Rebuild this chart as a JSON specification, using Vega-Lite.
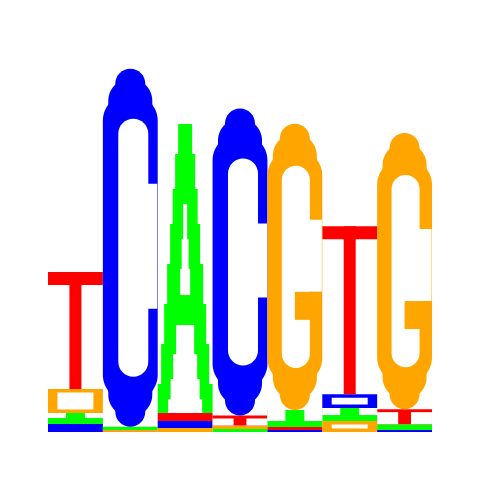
{
  "$schema": "https://vega.github.io/schema/vega-lite/v6.json",
  "width": 384,
  "height": 384,
  "padding": {"left": 48, "top": 48, "right": 48, "bottom": 48},
  "autosize": {"type": "none"},
  "background": "white",
  "config": {"view": {"stroke": null}},
  "data": {
    "values": [
      {"position": 1, "base": "C", "bits": 0.042},
      {"position": 1, "base": "A", "bits": 0.057},
      {"position": 1, "base": "G", "bits": 0.125},
      {"position": 1, "base": "T", "bits": 0.609},
      {"position": 2, "base": "T", "bits": 0.003},
      {"position": 2, "base": "G", "bits": 0.008},
      {"position": 2, "base": "A", "bits": 0.016},
      {"position": 2, "base": "C", "bits": 1.865},
      {"position": 3, "base": "G", "bits": 0.021},
      {"position": 3, "base": "C", "bits": 0.036},
      {"position": 3, "base": "T", "bits": 0.042},
      {"position": 3, "base": "A", "bits": 1.505},
      {"position": 4, "base": "A", "bits": 0.016},
      {"position": 4, "base": "G", "bits": 0.018},
      {"position": 4, "base": "T", "bits": 0.052},
      {"position": 4, "base": "C", "bits": 1.599},
      {"position": 5, "base": "C", "bits": 0.010},
      {"position": 5, "base": "T", "bits": 0.016},
      {"position": 5, "base": "A", "bits": 0.089},
      {"position": 5, "base": "G", "bits": 1.490},
      {"position": 6, "base": "G", "bits": 0.057},
      {"position": 6, "base": "A", "bits": 0.068},
      {"position": 6, "base": "C", "bits": 0.071},
      {"position": 6, "base": "T", "bits": 0.875},
      {"position": 7, "base": "C", "bits": 0.010},
      {"position": 7, "base": "A", "bits": 0.031},
      {"position": 7, "base": "T", "bits": 0.078},
      {"position": 7, "base": "G", "bits": 1.438}
    ]
  },
  "transform": [
    {"stack": "bits", "groupby": ["position"], "sort": [{"field": "bits", "order": "ascending"}], "as": ["y0", "y1"]}
  ],
  "encoding": {
    "x": {"field": "position", "type": "ordinal", "axis": null, "scale": {"paddingInner": 0, "paddingOuter": 0}},
    "y": {"field": "y1", "type": "quantitative", "axis": null, "scale": {"domain": [0, 2], "nice": false, "zero": true}},
    "y2": {"field": "y0"}
  },
  "layer": [
    {
      "transform": [{"filter": "datum.bits <= 0.3"}],
      "mark": {"type": "bar", "width": {"band": 1}},
      "encoding": {
        "color": {"field": "base", "type": "nominal", "legend": null,
          "scale": {"domain": ["A", "C", "G", "T"], "range": ["#00FF00", "#0000FF", "#FFA500", "#FF0000"]}}
      }
    },
    {
      "transform": [{"filter": "(datum.base == 'C' || datum.base == 'G') && datum.bits > 0.05 && datum.bits <= 0.3"}],
      "mark": {"type": "bar", "width": 36, "yOffset": 3.5, "y2Offset": -3.5, "color": "white"}
    },
    {
      "transform": [{"filter": "datum.base == 'T' && datum.bits > 0.045 && datum.bits <= 0.3"}],
      "layer": [
        {"mark": {"type": "bar", "width": 21, "xOffset": -16.9, "yOffset": 3, "color": "white"}},
        {"mark": {"type": "bar", "width": 21, "xOffset": 16.9, "yOffset": 3, "color": "white"}}
      ]
    },
    {
      "transform": [{"filter": "datum.base == 'A' && datum.bits > 0.05 && datum.bits <= 0.3"}],
      "layer": [
        {"mark": {"type": "bar", "width": 18, "xOffset": -18.5, "y2Offset": -6, "color": "white"}},
        {"mark": {"type": "bar", "width": 18, "xOffset": 18.5, "y2Offset": -6, "color": "white"}}
      ]
    },
    {
      "transform": [{"filter": "datum.base == 'T' && datum.bits > 0.3"}],
      "layer": [
        {"mark": {"type": "bar", "width": 12, "color": "#FF0000"}},
        {"mark": {"type": "bar", "width": {"band": 1}, "y2Offset": 13, "color": "#FF0000"},
         "encoding": {"y2": {"field": "y1"}}}
      ]
    },
    {
      "transform": [{"filter": "datum.base == 'C' && datum.bits > 0.3"}],
      "layer": [
        {"mark": {"type": "bar", "width": 30, "cornerRadius": 15, "color": "#0000FF"}},
        {"mark": {"type": "bar", "width": 44, "cornerRadius": 22, "yOffset": 10, "y2Offset": -10, "color": "#0000FF"}},
        {"mark": {"type": "bar", "width": {"band": 1}, "cornerRadius": 27, "yOffset": 25, "y2Offset": -25, "color": "#0000FF"}},
        {"mark": {"type": "bar", "width": 30, "xOffset": 3, "yOffset": 50, "y2Offset": -50, "cornerRadius": 15, "color": "white"}},
        {"mark": {"type": "bar", "width": 16, "xOffset": 19, "yOffset": 115, "y2Offset": -118, "color": "white"}}
      ]
    },
    {
      "transform": [{"filter": "datum.base == 'G' && datum.bits > 0.3"}],
      "layer": [
        {"mark": {"type": "bar", "width": 30, "cornerRadius": 15, "color": "#FFA500"}},
        {"mark": {"type": "bar", "width": 44, "cornerRadius": 22, "yOffset": 10, "y2Offset": -10, "color": "#FFA500"}},
        {"mark": {"type": "bar", "width": {"band": 1}, "cornerRadius": 27, "yOffset": 25, "y2Offset": -25, "color": "#FFA500"}},
        {"mark": {"type": "bar", "width": 28, "xOffset": 1, "yOffset": 42, "y2Offset": -42, "cornerRadius": 14, "color": "white"}},
        {"mark": {"type": "bar", "width": 16, "xOffset": 19, "yOffset": 96, "y2Offset": 168, "color": "white"},
         "encoding": {"y2": {"field": "y1"}}},
        {"mark": {"type": "bar", "width": 27, "xOffset": 13.5, "yOffset": 168, "y2Offset": 196, "color": "#FFA500"},
         "encoding": {"y2": {"field": "y1"}}}
      ]
    },
    {
      "transform": [{"filter": "datum.base == 'A' && datum.bits > 0.3"}],
      "layer": [
        {"mark": {"type": "bar", "width": 14, "color": "#00FF00"}},
        {"mark": {"type": "bar", "width": 20, "yOffset": 30, "color": "#00FF00"}},
        {"mark": {"type": "bar", "width": 25, "yOffset": 65, "color": "#00FF00"}},
        {"mark": {"type": "bar", "width": 30, "yOffset": 100, "color": "#00FF00"}},
        {"mark": {"type": "bar", "width": 36, "yOffset": 140, "color": "#00FF00"}},
        {"mark": {"type": "bar", "width": 42, "yOffset": 180, "color": "#00FF00"}},
        {"mark": {"type": "bar", "width": 48, "yOffset": 220, "color": "#00FF00"}},
        {"mark": {"type": "bar", "width": {"band": 1}, "yOffset": 260, "color": "#00FF00"}},
        {"mark": {"type": "bar", "width": 4, "yOffset": 80, "y2Offset": 171, "color": "white"},
         "encoding": {"y2": {"field": "y1"}}},
        {"mark": {"type": "bar", "width": 7, "yOffset": 115, "y2Offset": 171, "color": "white"},
         "encoding": {"y2": {"field": "y1"}}},
        {"mark": {"type": "bar", "width": 10, "yOffset": 145, "y2Offset": 171, "color": "white"},
         "encoding": {"y2": {"field": "y1"}}},
        {"mark": {"type": "bar", "width": 18, "yOffset": 201, "color": "white"}},
        {"mark": {"type": "bar", "width": 24, "yOffset": 230, "color": "white"}},
        {"mark": {"type": "bar", "width": 29, "yOffset": 255, "color": "white"}},
        {"mark": {"type": "bar", "width": 34, "yOffset": 275, "color": "white"}}
      ]
    }
  ]
}
